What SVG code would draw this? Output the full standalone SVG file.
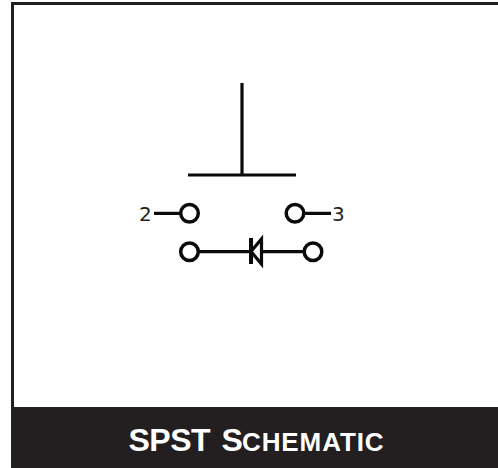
<svg xmlns="http://www.w3.org/2000/svg" width="498" height="468" viewBox="0 0 498 468">
<style>
.w{fill:none;stroke:#0a0a0a;stroke-width:3.200}
.c{fill:#fff;stroke:#0a0a0a;stroke-width:3.500}
.l{font-family:"DejaVu Sans",sans-serif;font-size:20px;fill:#231f20}
.t{font-family:"Liberation Sans",Arial,sans-serif;font-weight:bold;fill:#fff;font-size:32px}
.b{letter-spacing:-0.500px}
.s{font-size:26px;letter-spacing:0.900px}
</style>
<rect x="0" y="0" width="498" height="468" fill="#fff"/>
<path d="M12.500 407V3.500H498" fill="none" stroke="#231f20" stroke-width="3"/>
<rect x="11" y="407" width="487" height="61" fill="#231f20"/>
<g id="connectors">
<path class="w" d="M242 83V175M188 175H296"/>
<path class="w" d="M154 213.300H180M304 213.300H331"/>
<path class="w" d="M199 251.700H304"/>
</g>
<g id="diode"><path class="w" style="fill:#fff" d="M261.500 239V264L251 251.500Z"/><path class="w" style="stroke-width:4" d="M251 238V264"/></g>
<g id="node-2"><circle class="c" cx="189.500" cy="213.300" r="8.800"/><text class="l" x="139" y="220.500">2</text></g>
<g id="node-3"><circle class="c" cx="295" cy="213.300" r="8.800"/><text class="l" x="332" y="220.500">3</text></g>
<g id="node-in"><circle class="c" cx="189.500" cy="251.700" r="8.800"/></g>
<g id="node-out"><circle class="c" cx="313" cy="251.700" r="8.800"/></g>
<text class="t" y="450.500"><tspan class="b" x="128.500">SPST</tspan><tspan x="221.500">S</tspan><tspan class="s" x="242">CHEMATIC</tspan></text>
</svg>
